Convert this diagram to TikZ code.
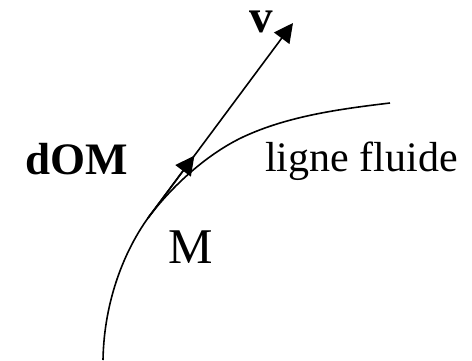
\documentclass[tikz,border=0pt]{standalone}
\usepackage{fontspec}
\setmainfont{Liberation Serif}
\usetikzlibrary{arrows.meta,calc}

\begin{document}
\begin{tikzpicture}[x=1pt,y=-1pt]
    \tikzset{
      vecteur/.style={
        line width=1.6pt,
        -{Triangle[length=19pt,width=19pt]},
      },
      etiquette/.style={
        anchor=base west,
        inner sep=0pt,
      }
    }
    \useasboundingbox (0,0) rectangle (472,360);
    %
    \coordinate (bas) at (103,360);
    \coordinate (M) at (148,218);
    \coordinate (milieu) at (243,137);
    \coordinate (fin) at (390,103);
    \coordinate (vend) at (293,23);
    %
    \draw[line width=1.6pt] (bas)
      .. controls (104,300) and (125,250) .. (M)
      .. controls (172,186) and (207,154) .. (milieu)
      .. controls (288,116) and (340,109) .. (fin);
    %
    \draw[vecteur] (M) -- (vend);
    \draw[vecteur] (M) -- ($(M)!0.32!(vend)$);
    %
    \node[etiquette,font=\fontsize{47}{56}\selectfont\bfseries] (v) at (249,32) {v};
    \node[etiquette,font=\fontsize{45}{54}\selectfont\bfseries] (dOM) at (25,174) {dOM};
    \node[etiquette,font=\fontsize{42}{50}\selectfont] (ligne) at (265,171) {ligne fluide};
    \node[etiquette,font=\fontsize{50}{60}\selectfont] (lblM) at (168,263) {M};
\end{tikzpicture}
\end{document}
